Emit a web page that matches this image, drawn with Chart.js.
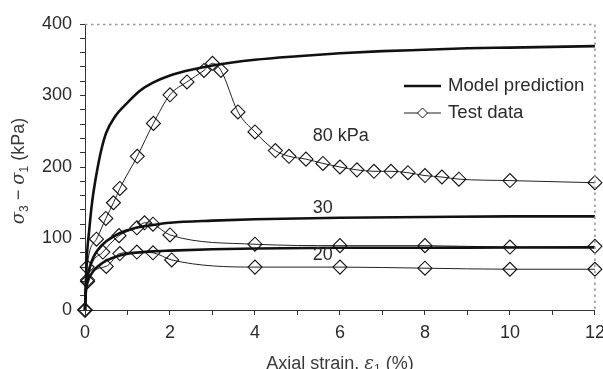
<!DOCTYPE html>
<html><head><meta charset="utf-8">
<script src="https://cdn.jsdelivr.net/npm/chart.js@4.4.1/dist/chart.umd.min.js"></script>
<style>html,body{margin:0;padding:0;background:#fff;overflow:hidden}#wrap{width:603px;height:369px;position:relative}</style>
</head><body><div id="wrap"><canvas id="c" width="603" height="369"></canvas></div>
<script>
// ---- data ----
const modelStrain80 = [0, 0.02, 0.05, 0.1, 0.15, 0.2, 0.3, 0.4, 0.5, 0.7, 1.0, 1.3, 1.6, 2.0, 2.5, 3.0, 4.0, 5.0, 6.0, 7.0, 8.0, 9.0, 10.0, 11.0, 12.0];
const modelStress80 = [0, 40, 80, 112, 142, 165, 200, 228, 248, 270, 290, 307, 318, 328, 336, 342, 350, 355, 359, 362, 364, 366, 367, 368, 369];
const modelStrainLow = [0, 0.02, 0.05, 0.1, 0.2, 0.3, 0.5, 0.8, 1.2, 1.6, 2.0, 3.0, 4.0, 6.0, 8.0, 10.0, 12.0];
const modelStress30 = [0, 30, 45, 58, 74, 84, 96, 107, 115, 119, 122, 125, 127, 129, 130, 131, 131];
const modelStress20 = [0, 25, 36, 45, 55, 61, 69, 76, 80, 82, 83, 85, 86, 87, 87, 87.5, 87.5];

const testStrain80 = [0, 0.05, 0.27, 0.49, 0.67, 0.82, 1.23, 1.61, 2.0, 2.4, 2.8, 3.0, 3.2, 3.6, 4.0, 4.48, 4.8, 5.2, 5.6, 6.0, 6.4, 6.8, 7.2, 7.6, 8.0, 8.4, 8.8, 10, 12];
const testStress80 = [0, 60, 99, 128, 150, 170, 215, 261, 301, 319, 335, 345, 335, 277, 249, 223, 215, 211, 205, 200, 196, 194, 194, 192, 188, 186, 183, 181, 178];
const testStrain30 = [0, 0.06, 0.42, 0.8, 1.22, 1.4, 1.6, 2.0, 4, 6, 8, 10, 12];
const testStress30 = [0, 42, 81, 104, 115, 122, 120, 105, 92, 90, 90, 88, 89];
const testStrain20 = [0, 0.06, 0.5, 0.82, 1.22, 1.6, 2.04, 4, 6, 8, 10, 12];
const testStress20 = [0, 40, 61, 79, 81, 80, 70, 60, 60, 58.5, 57, 57];

const xTicks = [0, 2, 4, 6, 8, 10, 12];
const yTicks = [0, 100, 200, 300, 400];
const curveLabels = ['80 kPa', '30', '20'];
const legendLabels = ['Model prediction', 'Test data'];

// ---- build ----
const pts = (xs, ys) => xs.map((x, i) => ({x, y: ys[i]}));
const FONT = "'Liberation Sans', Arial, Helvetica, sans-serif";
const TXT = '#2b2b2b';

const modelStyle = {showLine: true, borderColor: '#111', borderWidth: 2.6, pointRadius: 0, pointHoverRadius: 0,
  cubicInterpolationMode: 'monotone', clip: false, fill: false};
const testStyle = {showLine: true, borderColor: '#222', borderWidth: 1, pointStyle: 'rectRot', pointRadius: 7,
  pointHoverRadius: 7, pointBorderWidth: 1.1, pointBorderColor: '#111', pointBackgroundColor: 'rgba(255,255,255,0)',
  cubicInterpolationMode: 'monotone', clip: false, fill: false};

function drawRich(ctx, parts, x, y, align) {
  const big = "18px " + FONT, small = "12px " + FONT;
  const fontOf = p => (p.sub ? small : (p.italic ? "italic 18px 'DejaVu Serif', 'Liberation Serif', serif" : big));
  let total = 0;
  parts.forEach(p => { ctx.font = fontOf(p); p.w = ctx.measureText(p.t).width; total += p.w; });
  let cx = align === 'center' ? x - total / 2 : x;
  ctx.textAlign = 'left';
  ctx.textBaseline = 'alphabetic';
  parts.forEach(p => { ctx.font = fontOf(p); ctx.fillText(p.t, cx, y + (p.sub ? 4 : 0)); cx += p.w; });
}

const decor = {
  id: 'decor',
  afterDraw(chart) {
    const {ctx, chartArea: a, scales: {x, y}} = chart;
    ctx.save();
    // dotted top and right frame
    ctx.strokeStyle = '#999'; ctx.lineWidth = 1.6; ctx.setLineDash([2.5, 3.5]);
    ctx.beginPath(); ctx.moveTo(a.left, a.top + 0.5); ctx.lineTo(a.right, a.top + 0.5); ctx.lineTo(a.right, a.bottom); ctx.stroke();
    ctx.setLineDash([]);
    // curve labels
    ctx.fillStyle = TXT; ctx.font = "18px " + FONT; ctx.textAlign = 'left'; ctx.textBaseline = 'middle';
    const lab = [[5.36, 243], [5.36, 142], [5.36, 77]];
    curveLabels.forEach((t, i) => ctx.fillText(t, x.getPixelForValue(lab[i][0]), y.getPixelForValue(lab[i][1])));
    // legend
    const lx0 = 404, lx1 = 441, ly = [86, 113];
    ctx.strokeStyle = '#111'; ctx.lineWidth = 2.6;
    ctx.beginPath(); ctx.moveTo(lx0, ly[0]); ctx.lineTo(lx1, ly[0]); ctx.stroke();
    ctx.strokeStyle = '#222'; ctx.lineWidth = 1;
    ctx.beginPath(); ctx.moveTo(lx0, ly[1]); ctx.lineTo(lx1, ly[1]); ctx.stroke();
    const cx = (lx0 + lx1) / 2, r = 5;
    ctx.fillStyle = '#fff'; ctx.beginPath();
    ctx.moveTo(cx, ly[1] - r); ctx.lineTo(cx + r, ly[1]); ctx.lineTo(cx, ly[1] + r); ctx.lineTo(cx - r, ly[1]); ctx.closePath();
    ctx.fill(); ctx.strokeStyle = '#111'; ctx.stroke();
    ctx.fillStyle = TXT; ctx.font = "18.6px " + FONT; ctx.textBaseline = 'middle';
    legendLabels.forEach((t, i) => ctx.fillText(t, 448, ly[i]));
    // x axis title
    ctx.fillStyle = '#3a3a3a';
    drawRich(ctx, [{t: 'Axial strain, '}, {t: 'ε', italic: true}, {t: '1', sub: true}, {t: ' (%)'}], (a.left + a.right) / 2, 368.5, 'center');
    // y axis title
    ctx.translate(24, (a.top + a.bottom) / 2 + 4);
    ctx.rotate(-Math.PI / 2);
    drawRich(ctx, [{t: 'σ', italic: true}, {t: '3', sub: true}, {t: ' − '}, {t: 'σ', italic: true}, {t: '1', sub: true}, {t: ' (kPa)'}], 0, 0, 'center');
    ctx.restore();
  }
};

new Chart(document.getElementById('c'), {
  type: 'scatter',
  data: {
    datasets: [
      Object.assign({label: 'Model 80', data: pts(modelStrain80, modelStress80)}, modelStyle),
      Object.assign({label: 'Model 30', data: pts(modelStrainLow, modelStress30)}, modelStyle),
      Object.assign({label: 'Model 20', data: pts(modelStrainLow, modelStress20)}, modelStyle),
      Object.assign({label: 'Test 80', data: pts(testStrain80, testStress80)}, testStyle),
      Object.assign({label: 'Test 30', data: pts(testStrain30, testStress30)}, testStyle),
      Object.assign({label: 'Test 20', data: pts(testStrain20, testStress20)}, testStyle)
    ]
  },
  options: {
    responsive: false, animation: false, devicePixelRatio: 1,
    layout: {padding: {left: 0, right: 8, top: 24, bottom: 0}},
    plugins: {legend: {display: false}, tooltip: {enabled: false}},
    events: [],
    scales: {
      x: {
        type: 'linear', position: 'bottom', min: 0, max: 12,
        ticks: {stepSize: 1, autoSkip: false, maxRotation: 0, color: TXT, padding: 7,
          font: {family: FONT, size: 18}, callback: v => xTicks.includes(v) ? String(v) : ''},
        grid: {drawOnChartArea: false, drawTicks: true, tickLength: 5, color: '#333', lineWidth: 1},
        border: {color: '#333', width: 1},
        afterFit: s => { s.height = 59; s.paddingLeft = 0; s.paddingRight = 0; }
      },
      y: {
        type: 'linear', position: 'left', min: 0, max: 400,
        ticks: {stepSize: 20, autoSkip: false, color: TXT, padding: 8,
          font: {family: FONT, size: 18}, callback: v => yTicks.includes(v) ? String(v) : ''},
        grid: {drawOnChartArea: false, drawTicks: true, tickLength: 5, color: '#333', lineWidth: 1},
        border: {color: '#333', width: 1},
        afterFit: s => { s.width = 85; s.paddingTop = 0; s.paddingBottom = 0; }
      }
    }
  },
  plugins: [decor]
});
</script></body></html>
